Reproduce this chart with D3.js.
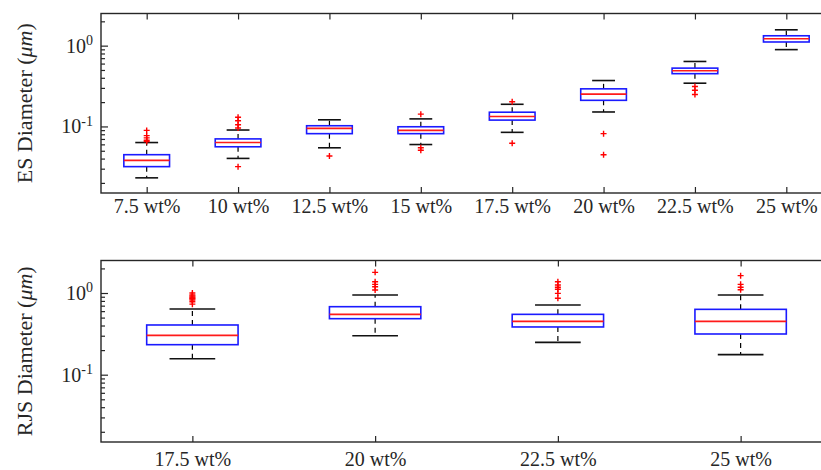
<!DOCTYPE html>
<html>
<head>
<meta charset="utf-8">
<script src="https://cdn.jsdelivr.net/npm/d3@7"></script>
<style>
  html, body { margin: 0; padding: 0; background: #fff; }
  svg { display: block; }
  text { font-family: "Liberation Serif", "Times New Roman", serif; fill: #262626; }
</style>
</head>
<body>
<svg id="chart" width="821" height="470"></svg>
<script>
// ---------- Data ----------
const esCategories = ["7.5 wt%", "10 wt%", "12.5 wt%", "15 wt%", "17.5 wt%", "20 wt%", "22.5 wt%", "25 wt%"];
const esLowerWhisker = [0.0231, 0.0402, 0.0544, 0.0597, 0.0845, 0.151, 0.343, 0.893];
const esQ1           = [0.0318, 0.0560, 0.0814, 0.0814, 0.1198, 0.2105, 0.450, 1.11];
const esMedian       = [0.0380, 0.0632, 0.0946, 0.0893, 0.1325, 0.251, 0.490, 1.218];
const esQ3           = [0.0447, 0.0701, 0.102, 0.0991, 0.150, 0.292, 0.527, 1.325];
const esUpperWhisker = [0.0632, 0.0903, 0.1208, 0.124, 0.188, 0.370, 0.637, 1.57];
const esOutliers = [
  [0.0893, 0.0769, 0.0721, 0.0674, 0.065],
  [0.130, 0.1174, 0.105, 0.0955, 0.0318],
  [0.0430],
  [0.142, 0.0544, 0.0508],
  [0.2023, 0.0619],
  [0.0814, 0.0447],
  [0.312, 0.281, 0.249],
  []
];

const rjsCategories = ["17.5 wt%", "20 wt%", "22.5 wt%", "25 wt%"];
const rjsLowerWhisker = [0.157, 0.300, 0.249, 0.176];
const rjsQ1           = [0.233, 0.485, 0.384, 0.315];
const rjsMedian       = [0.303, 0.548, 0.450, 0.450];
const rjsQ3           = [0.406, 0.680, 0.548, 0.631];
const rjsUpperWhisker = [0.637, 0.945, 0.713, 0.945];
const rjsOutliers = [
  [1.0, 0.95, 0.92, 0.89, 0.87, 0.85, 0.82, 0.78, 0.73],
  [1.79, 1.375, 1.277, 1.194, 1.088],
  [1.375, 1.253, 1.174, 1.11, 0.99, 0.861],
  [1.63, 1.277, 1.174, 1.098]
];

const yDomain = [0.015, 2.5];
const yMajorTicks = [0.1, 1];
const yMajorLabels = [["10", "-1"], ["10", "0"]];

// ---------- Drawing ----------
const svg = d3.select("#chart");
const axisColor = "#262626";

function panel(cfg) {
  const g = svg.append("g");
  const x = d3.scaleLinear().domain([0.5, cfg.cats.length + 0.5]).range([cfg.left, cfg.right]);
  const y = d3.scaleLog().domain(yDomain).range([cfg.bottom, cfg.top]);
  const step = x(2) - x(1);
  const boxW = step * 0.5, capW = step * 0.25;

  // minor ticks
  const minor = [];
  [0.01, 0.1, 1].forEach(d => { for (let k = 2; k <= 9; k++) { const v = d * k; if (v >= yDomain[0] && v <= yDomain[1]) minor.push(v); } });

  const yMinorAxis = d3.axisLeft(y).tickValues(minor).tickSize(-4).tickFormat("");
  const yMajorAxis = d3.axisLeft(y).tickValues(yMajorTicks).tickSize(-7).tickFormat("");
  const yMinorAxisR = d3.axisRight(y).tickValues(minor).tickSize(-4).tickFormat("");
  const yMajorAxisR = d3.axisRight(y).tickValues(yMajorTicks).tickSize(-7).tickFormat("");
  const idx = d3.range(1, cfg.cats.length + 1);
  const xAxisB = d3.axisBottom(x).tickValues(idx).tickSize(-6).tickPadding(cfg.labelPad).tickFormat((d, i) => cfg.cats[i]);
  const xAxisT = d3.axisTop(x).tickValues(idx).tickSize(-6).tickFormat("");

  function style(sel) {
    sel.select(".domain").remove();
    sel.selectAll("line").attr("stroke", axisColor).attr("stroke-width", 1.2);
  }
  g.append("g").attr("transform", `translate(${cfg.left},0)`).call(yMinorAxis).call(style);
  g.append("g").attr("transform", `translate(${cfg.left},0)`).call(yMajorAxis).call(style);
  g.append("g").attr("transform", `translate(${cfg.right},0)`).call(yMinorAxisR).call(style);
  g.append("g").attr("transform", `translate(${cfg.right},0)`).call(yMajorAxisR).call(style);
  const xb = g.append("g").attr("transform", `translate(0,${cfg.bottom})`).call(xAxisB).call(style);
  xb.selectAll("text").attr("font-size", 20).attr("fill", axisColor)
    .attr("font-family", '"Liberation Serif", serif');
  g.append("g").attr("transform", `translate(0,${cfg.top})`).call(xAxisT).call(style);

  // frame
  g.append("rect").attr("x", cfg.left).attr("y", cfg.top)
    .attr("width", cfg.right - cfg.left).attr("height", cfg.bottom - cfg.top)
    .attr("fill", "none").attr("stroke", axisColor).attr("stroke-width", 1.4);

  // y tick labels
  yMajorTicks.forEach((v, i) => {
    const t = g.append("text").attr("x", cfg.left - 8).attr("y", y(v)).attr("dy", "0.35em")
      .attr("text-anchor", "end").attr("font-size", 20);
    t.append("tspan").text(yMajorLabels[i][0]);
    t.append("tspan").attr("dy", "-0.55em").attr("font-size", 14).text(yMajorLabels[i][1]);
  });

  // y label
  const lbl = g.append("text")
    .attr("transform", `translate(${cfg.labelX},${(cfg.top + cfg.bottom) / 2}) rotate(-90)`)
    .attr("text-anchor", "middle").attr("font-size", 22);
  lbl.append("tspan").text(cfg.label + " (");
  lbl.append("tspan").attr("font-style", "italic").text("μm");
  lbl.append("tspan").text(")");

  // boxes
  cfg.cats.forEach((c, i) => {
    const cx = x(i + 1);
    const bg = g.append("g");
    // whiskers (dashed)
    bg.append("line").attr("x1", cx).attr("x2", cx).attr("y1", y(cfg.q3[i])).attr("y2", y(cfg.uw[i]))
      .attr("stroke", "#000").attr("stroke-width", 1.2).attr("stroke-dasharray", "5,4");
    bg.append("line").attr("x1", cx).attr("x2", cx).attr("y1", y(cfg.q1[i])).attr("y2", y(cfg.lw[i]))
      .attr("stroke", "#000").attr("stroke-width", 1.2).attr("stroke-dasharray", "5,4");
    // caps
    [cfg.uw[i], cfg.lw[i]].forEach(v => {
      bg.append("line").attr("x1", cx - capW / 2).attr("x2", cx + capW / 2).attr("y1", y(v)).attr("y2", y(v))
        .attr("stroke", "#111").attr("stroke-width", 1.6);
    });
    // box
    bg.append("rect").attr("x", cx - boxW / 2).attr("y", y(cfg.q3[i]))
      .attr("width", boxW).attr("height", y(cfg.q1[i]) - y(cfg.q3[i]))
      .attr("fill", "none").attr("stroke", "#1a1aff").attr("stroke-width", 1.6);
    // median
    bg.append("line").attr("x1", cx - boxW / 2).attr("x2", cx + boxW / 2)
      .attr("y1", y(cfg.med[i])).attr("y2", y(cfg.med[i]))
      .attr("stroke", "#ff1a1a").attr("stroke-width", 1.6);
    // outliers
    cfg.out[i].forEach(v => {
      const oy = y(v), s = 3;
      bg.append("path").attr("d", `M${cx - s},${oy}H${cx + s}M${cx},${oy - s}V${oy + s}`)
        .attr("stroke", "#ff0000").attr("stroke-width", 1.4).attr("fill", "none");
    });
  });
}

panel({
  cats: esCategories, lw: esLowerWhisker, q1: esQ1, med: esMedian, q3: esQ3, uw: esUpperWhisker, out: esOutliers,
  left: 101, right: 832, top: 13.5, bottom: 193, label: "ES Diameter", labelX: 32, labelPad: 6
});
panel({
  cats: rjsCategories, lw: rjsLowerWhisker, q1: rjsQ1, med: rjsMedian, q3: rjsQ3, uw: rjsUpperWhisker, out: rjsOutliers,
  left: 101, right: 832, top: 260.5, bottom: 442, label: "RJS Diameter", labelX: 32, labelPad: 10
});
</script>
</body>
</html>
